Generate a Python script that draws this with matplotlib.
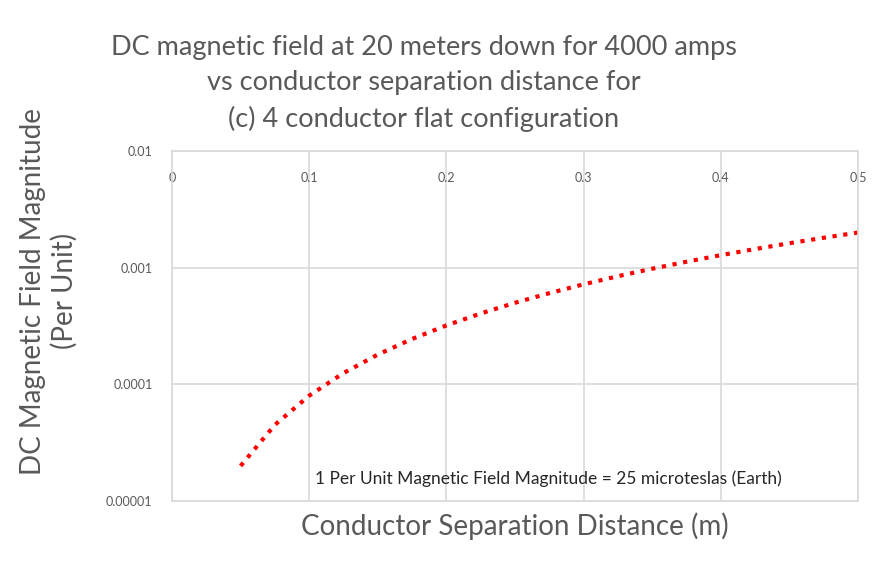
import matplotlib.pyplot as plt
from matplotlib.ticker import FixedLocator, FixedFormatter

# separation distance (m) and field magnitude (per unit)
separation = [0.05, 0.075, 0.1, 0.125, 0.15, 0.175, 0.2, 0.225, 0.25, 0.275,
              0.3, 0.325, 0.35, 0.375, 0.4, 0.425, 0.45, 0.475, 0.5]
field = [2.0e-5, 4.5e-5, 8.0e-5, 1.25e-4, 1.8e-4, 2.45e-4, 3.2e-4, 4.05e-4,
         5.0e-4, 6.05e-4, 7.2e-4, 8.45e-4, 9.8e-4, 1.125e-3, 1.28e-3,
         1.445e-3, 1.62e-3, 1.805e-3, 2.0e-3]

xticks = [0, 0.1, 0.2, 0.3, 0.4, 0.5]
xticklabels = ["0", "0.1", "0.2", "0.3", "0.4", "0.5"]
yticks = [1e-5, 1e-4, 1e-3, 1e-2]
yticklabels = ["0.00001", "0.0001", "0.001", "0.01"]

title = ("DC magnetic field at 20 meters down for 4000 amps\n"
         "vs conductor separation distance for\n"
         "(c) 4 conductor flat configuration")
note = "1 Per Unit Magnetic Field Magnitude = 25 microteslas (Earth)"

plt.rcParams['font.family'] = ['Lato', 'DejaVu Sans']
grey = '#595959'
gridc = '#d9d9d9'

fig = plt.figure(figsize=(8.83, 5.62), dpi=100)
ax = fig.add_axes([0.1948, 0.1085, 0.7769, 0.6228])

ax.plot(separation, field, color='red', lw=3, linestyle=(0, (1, 1.6)),
        dash_capstyle='butt')

ax.set_yscale('log')
ax.set_xlim(0, 0.5)
ax.set_ylim(1e-5, 1e-2)

ax.yaxis.set_major_locator(FixedLocator(yticks))
ax.yaxis.set_major_formatter(FixedFormatter(yticklabels))
ax.yaxis.set_minor_locator(FixedLocator([]))
ax.set_xticks(xticks)
ax.set_xticklabels(xticklabels)

ax.tick_params(axis='x', top=False, bottom=False, labeltop=True,
               labelbottom=False, length=0, pad=-24, labelsize=9,
               labelcolor=grey)
ax.tick_params(axis='y', length=0, pad=14, labelsize=9, labelcolor=grey)

ax.grid(True, color=gridc, lw=1.2)
ax.set_axisbelow(True)
for s in ax.spines.values():
    s.set_color(gridc)
    s.set_linewidth(1.2)

ax.set_xlabel("Conductor Separation Distance (m)", fontsize=20, color=grey,
              labelpad=8)
ax.set_ylabel("DC Magnetic Field Magnitude\n(Per Unit)", fontsize=20,
              color=grey, linespacing=1.2)
ax.yaxis.set_label_coords(-0.138, 0.6)

fig.text(0.48, 0.937, title, ha='center', va='top', fontsize=19.5,
         color=grey, linespacing=1.5)

ax.text(0.2745, 1.55e-5, note, ha='center', va='center', fontsize=12.5,
        color='#262626')

fig.savefig("out.png", dpi=100)
